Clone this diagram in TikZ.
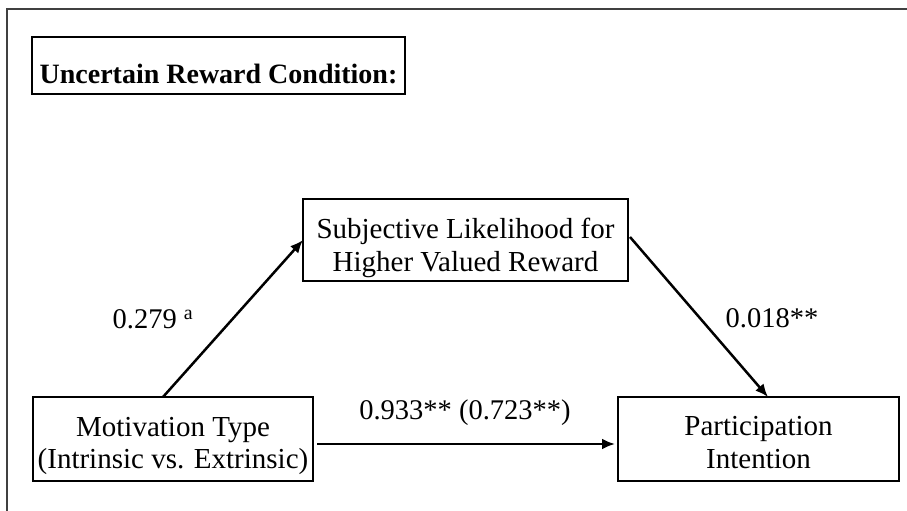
\documentclass[tikz,border=0pt]{standalone}
\usepackage{fontspec}
\setmainfont{Liberation Serif}
\usetikzlibrary{arrows.meta}

\begin{document}
\begin{tikzpicture}[x=1pt, y=-1pt,
        box/.style={draw, line width=1.9pt, align=center, inner sep=0pt, outer sep=0pt,
            font=\fontsize{29}{32}\selectfont},
        arr/.style={line width=2.5pt, -{Latex[length=13pt, width=11pt]}},
        coef/.style={font=\fontsize{28.5}{32}\selectfont}]
        % frame
        \useasboundingbox (0,0) rectangle (907,511);
        \draw [line width=1.4pt, black!75] (907,9) -- (7,9) -- (7,511);

        % title
        \node [box, minimum width=373pt, minimum height=57pt, text height=36pt, text depth=0pt,
            font=\fontsize{28}{32}\selectfont\bfseries] (title) at (218.5,65.5)
            {Uncertain Reward Condition:};

        % boxes
        \node [box, minimum width=325pt, minimum height=82pt, text height=62pt, text depth=0pt,
            font=\fontsize{29}{33}\selectfont] (med) at (465.5,240)
            {Subjective Likelihood for\\Higher Valued Reward};
        \node [box, minimum width=280pt, minimum height=84pt, text height=58pt, text depth=0pt]
            (mot) at (173,439) {Motivation Type\\(Intrinsic vs. Extrinsic)};
        \node [box, minimum width=281pt, minimum height=84pt, text height=58pt, text depth=0pt,
            font=\fontsize{29}{33}\selectfont] (part) at (758.5,439)
            {Participation\\Intention};

        % paths
        \draw [arr] ([xshift=-10pt]mot.north) -- (med.west);
        \draw [arr] ([xshift=2pt, yshift=3pt]med.east) -- ([xshift=9.5pt]part.north);
        \draw [arr] ([xshift=4pt, yshift=-5pt]mot.east) -- ([xshift=-3pt, yshift=-5pt]part.west);

        % coefficients
        \node [coef] (a) at (153,319) {0.279 \textsuperscript{a}};
        \node [coef] (b) at (772,318) {0.018**};
        \node [coef] (c) at (465,413) {0.933** (0.723**)};

    \end{tikzpicture}
\end{document}
